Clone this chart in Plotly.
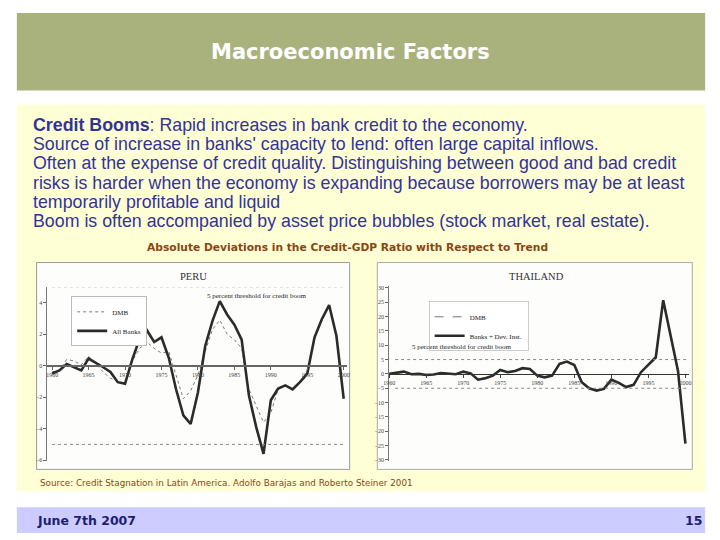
import plotly.graph_objects as go

# ---------------- data ----------------
years = list(range(1960, 2001))

peru_all_banks = [-0.5, -0.3, 0.1, -0.1, -0.3, 0.45, 0.2, -0.1, -0.4, -1.05,
                  -1.15, 0.4, 1.7, 2.25, 1.5, 1.8, 0.5, -1.5, -3.15, -3.7,
                  -1.7, 1.25, 2.85, 4.1, 3.25, 2.6, 1.65, -1.9, -3.9, -5.6,
                  -2.2, -1.45, -1.25, -1.5, -1.05, -0.5, 1.8, 2.95, 3.85, 1.9,
                  -2.1]
peru_dmb = [-0.4, -0.3, 0.4, 0.3, 0.05, 0.6, 0.1, -0.4, -0.8, -1.0,
            -1.1, 0.3, 1.1, 1.5, 1.1, 0.8, 0.9, -0.6, -2.1, -1.6,
            -0.6, 0.9, 2.3, 2.9, 2.0, 1.65, 1.1, -1.5, -2.5, -3.6,
            -3.0, -1.5, -1.3, -1.5, -1.1, -0.6, 1.7, 2.9, 3.8, 1.8,
            -2.1]

thai_banks_dev = [0.0, 0.3, 0.8, -0.1, 0.0, -0.4, -0.2, 0.3, 0.0, -0.1,
                  0.8, 0.2, -2.0, -1.5, -0.6, 1.4, 0.6, 1.0, 2.0, 1.7,
                  -0.6, -1.2, -0.6, 3.5, 4.3, 3.1, -2.9, -5.0, -5.8, -5.2,
                  -2.0, -3.1, -4.6, -3.8, 0.6, 3.1, 5.8, 25.7, 13.0, 1.0,
                  -24.3]
thai_dmb = [0.1, 0.4, 0.7, 0.0, -0.1, -0.3, -0.2, 0.2, 0.1, -0.2,
            0.6, 0.1, -1.8, -1.3, -0.4, 1.2, 0.5, 1.1, 1.8, 1.8,
            -0.4, -1.0, -0.8, 3.2, 4.0, 3.3, -2.6, -4.8, -5.6, -5.3,
            -2.3, -3.0, -4.4, -4.0, 0.3, 2.8, 5.4, 25.2, 12.6, 0.6,
            -23.8]

threshold = 5
peru_yticks = [4, 2, 0, -2, -4, -6]
thai_yticks = [30, 25, 20, 15, 10, 5, 0, -5, -10, -15, -20, -25, -30]
year_ticks = [1960, 1965, 1970, 1975, 1980, 1985, 1990, 1995, 2000]

body_lines = [
    "<b>Credit Booms</b>: Rapid increases in bank credit to the economy.",
    "Source of increase in banks' capacity to lend: often large capital inflows.",
    "Often at the expense of credit quality. Distinguishing between good and bad credit",
    "risks is harder when the economy is expanding because borrowers may be at least",
    "temporarily profitable and liquid",
    "Boom is often accompanied by asset price bubbles (stock market, real estate).",
]

# ---------------- helpers ----------------
W, H = 720, 540
def px(x):
    return x / W
def py(y):
    return 1 - y / H

SERIF = "Liberation Serif"
SANS = "DejaVu Sans"
NAVY = "#333399"
BROWN = "#8B4513"

fig = go.Figure()

# Peru traces
fig.add_trace(go.Scatter(x=years, y=peru_dmb, mode="lines", name="DMB",
                         line=dict(color="#777", width=1, dash="dot"),
                         xaxis="x", yaxis="y", legend="legend"))
fig.add_trace(go.Scatter(x=years, y=peru_all_banks, mode="lines", name="All Banks",
                         line=dict(color="#2b2b2b", width=2.6),
                         xaxis="x", yaxis="y", legend="legend"))
# Thailand traces
fig.add_trace(go.Scatter(x=years, y=thai_dmb, mode="lines", name="DMB",
                         line=dict(color="#777", width=1, dash="dash"),
                         xaxis="x2", yaxis="y2", legend="legend2"))
fig.add_trace(go.Scatter(x=years, y=thai_banks_dev, mode="lines", name="Banks + Dev. Inst.",
                         line=dict(color="#2b2b2b", width=2.6),
                         xaxis="x2", yaxis="y2", legend="legend2"))

tickfont = dict(family=SERIF, size=6, color="#444")

fig.update_layout(
    width=W, height=H,
    margin=dict(l=0, r=0, t=0, b=0),
    paper_bgcolor="white",
    plot_bgcolor="rgba(0,0,0,0)",
    xaxis=dict(domain=[px(42), px(345)], range=[1959.36, 2000.41],
               anchor="free", position=py(366.7),
               tickvals=year_ticks, ticks="outside", ticklen=3, tickcolor="#666",
               tickfont=tickfont, showgrid=False, zeroline=False,
               showline=True, linecolor="#666", linewidth=2),
    yaxis=dict(domain=[py(463), py(288)], range=[-6.08, 4.97], anchor="x",
               tickvals=peru_yticks, ticks="outside", ticklen=3, tickcolor="#666",
               tickfont=tickfont, showgrid=False, zeroline=False,
               showline=True, linecolor="#777", linewidth=1),
    xaxis2=dict(domain=[px(388), px(692)], range=[1960, 2000.53],
                anchor="free", position=py(375),
                tickvals=year_ticks, ticks="outside", ticklen=3, tickcolor="#444",
                tickfont=tickfont, showgrid=False, zeroline=False,
                showline=True, linecolor="#333", linewidth=1),
    yaxis2=dict(domain=[py(463), py(287)], range=[-30.5, 30.5], anchor="x2",
                tickvals=thai_yticks, ticks="outside", ticklen=3, tickcolor="#666",
                tickfont=tickfont, showgrid=False, zeroline=False,
                showline=True, linecolor="#777", linewidth=1),
    legend=dict(x=px(66), y=py(297), xanchor="left", yanchor="top",
                bgcolor="white", bordercolor="#bbb", borderwidth=1,
                font=dict(family=SERIF, size=7, color="#222"),
                tracegroupgap=0, itemwidth=30),
    legend2=dict(x=px(428), y=py(302), xanchor="left", yanchor="top",
                 bgcolor="white", bordercolor="#ccc", borderwidth=1,
                 font=dict(family=SERIF, size=7, color="#222"),
                 tracegroupgap=0, itemwidth=30),
    showlegend=True,
)

shapes = [
    # title bar
    dict(type="rect", xref="paper", yref="paper", x0=px(11), x1=px(708), y0=py(90), y1=py(12),
         fillcolor="#A9B27D", line=dict(width=0), layer="below"),
    # yellow panel
    dict(type="rect", xref="paper", yref="paper", x0=px(11), x1=px(708), y0=py(493), y1=py(104),
         fillcolor="#FFFFD6", line=dict(width=0), layer="below"),
    # footer bar
    dict(type="rect", xref="paper", yref="paper", x0=px(11), x1=px(708), y0=py(535), y1=py(509),
         fillcolor="#CCCCFF", line=dict(width=0), layer="below"),
    # image boxes
    dict(type="rect", xref="paper", yref="paper", x0=px(31), x1=px(348), y0=py(471), y1=py(263),
         fillcolor="#FDFDFB", line=dict(width=1, color="#999"), layer="below"),
    dict(type="rect", xref="paper", yref="paper", x0=px(376), x1=px(695), y0=py(471), y1=py(263),
         fillcolor="#FDFDFB", line=dict(width=1, color="#aaa"), layer="below"),
]
# threshold lines
for sgn in (1, -1):
    shapes.append(dict(type="line", xref="x domain", yref="y", x0=0.015, x1=0.99,
                       y0=sgn * threshold, y1=sgn * threshold,
                       line=dict(color="#888", width=1, dash="dot")))
    shapes.append(dict(type="line", xref="x2 domain", yref="y2", x0=0.02, x1=0.99,
                       y0=sgn * threshold, y1=sgn * threshold,
                       line=dict(color="#888", width=1, dash="dot")))
fig.update_layout(shapes=shapes)

ann = []
ann.append(dict(xref="paper", yref="paper", x=px(349), y=py(51), text="<b>Macroeconomic Factors</b>",
                showarrow=False, xanchor="center", yanchor="middle",
                font=dict(family=SANS, size=21, color="white")))
line_y = [125, 144.3, 163.3, 182.7, 201.7, 221.7]
for t, yy in zip(body_lines, line_y):
    ann.append(dict(xref="paper", yref="paper", x=px(25), y=py(yy), text=t, showarrow=False,
                    xanchor="left", yanchor="middle",
                    font=dict(family="Liberation Sans", size=17.8, color=NAVY)))
ann.append(dict(xref="paper", yref="paper", x=px(346), y=py(247.5),
                text="<b>Absolute Deviations in the Credit-GDP Ratio with Respect to Trend</b>",
                showarrow=False, xanchor="center", yanchor="middle",
                font=dict(family=SANS, size=10.7, color=BROWN)))
ann.append(dict(xref="paper", yref="paper", x=px(32), y=py(485),
                text="Source: Credit Stagnation in Latin America. Adolfo Barajas and Roberto Steiner 2001",
                showarrow=False, xanchor="left", yanchor="middle",
                font=dict(family=SANS, size=8.8, color=BROWN)))
ann.append(dict(xref="paper", yref="paper", x=px(29), y=py(522.5), text="<b>June 7th 2007</b>",
                showarrow=False, xanchor="left", yanchor="middle",
                font=dict(family=SANS, size=12.5, color="#1F1F70")))
ann.append(dict(xref="paper", yref="paper", x=px(707), y=py(522.5), text="<b>15</b>",
                showarrow=False, xanchor="right", yanchor="middle",
                font=dict(family=SANS, size=12.5, color="#1F1F70")))
# chart titles
ann.append(dict(xref="paper", yref="paper", x=px(190), y=py(277), text="PERU", showarrow=False,
                xanchor="center", yanchor="middle", font=dict(family=SERIF, size=10.5, color="#333")))
ann.append(dict(xref="paper", yref="paper", x=px(537), y=py(277), text="THAILAND", showarrow=False,
                xanchor="center", yanchor="middle", font=dict(family=SERIF, size=10.5, color="#333")))
ann.append(dict(xref="paper", yref="paper", x=px(254), y=py(297),
                text="5 percent threshold for credit boom", showarrow=False,
                xanchor="center", yanchor="middle", font=dict(family=SERIF, size=7, color="#222")))
ann.append(dict(xref="paper", yref="paper", x=px(461), y=py(348),
                text="5 percent threshold for credit boom", showarrow=False,
                xanchor="center", yanchor="middle", font=dict(family=SERIF, size=7, color="#222")))
fig.update_layout(annotations=ann)

fig.write_html("out.html", config={"displayModeBar": False},
               post_script="document.body.style.margin='0';document.body.style.overflow='hidden';")
